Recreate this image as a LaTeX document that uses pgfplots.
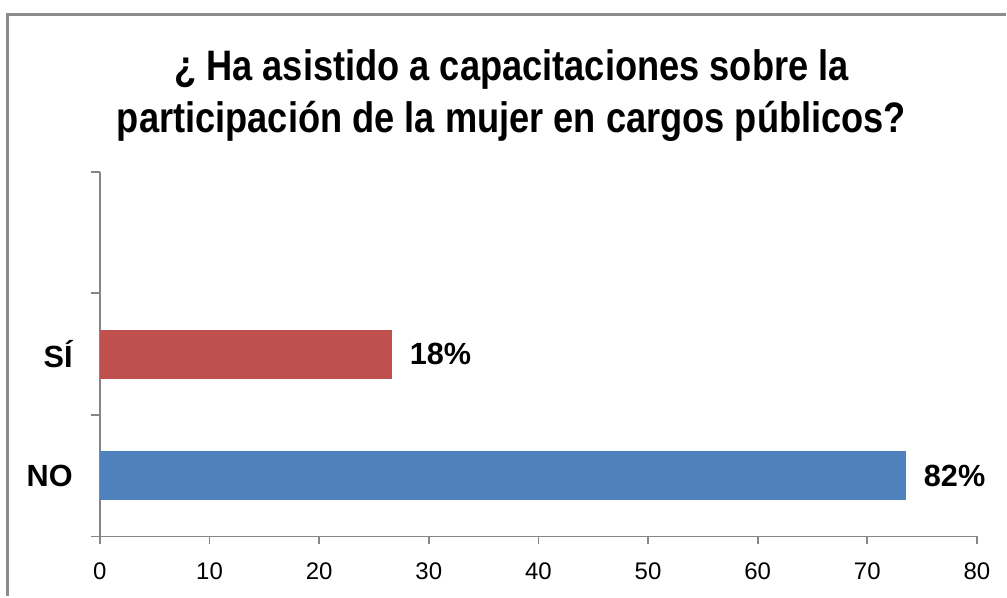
\documentclass[border=0pt]{standalone}
\usepackage{fontspec}
\setmainfont{Liberation Sans}
\newfontfamily\narrowbold[FakeStretch=0.85]{Liberation Sans Bold}
\usepackage{pgfplots}
\pgfplotsset{compat=1.18}
\definecolor{barred}{HTML}{C0504D}
\definecolor{barblue}{HTML}{4F81BD}
\definecolor{axgray}{HTML}{868686}
\definecolor{framegray}{HTML}{8C8C8C}

\begin{document}
\begin{tikzpicture}
% page: 1007x597 px at 0.75pt per px
\path (0,0) rectangle (755.25pt,447.75pt);
\draw[framegray, line width=1.6pt] (5.6pt,0pt) -- (5.6pt,436.9pt) -- (755.25pt,436.9pt);
\node[align=center, font=\narrowbold\fontsize{32}{39}\selectfont, anchor=center]
  at (384pt,376pt) {¿ Ha asistido a capacitaciones sobre la\\participación de la mujer en cargos públicos?};
\begin{axis}[
  at={(75pt,45pt)}, anchor=south west,
  scale only axis, width=658.5pt, height=273.75pt,
  xbar, bar width=36.75pt,
  xmin=0, xmax=80, ymin=-0.5, ymax=2.5,
  xtick={0,10,...,80},
  ytick={0,1}, yticklabels={NO,SÍ},
  minor ytick={-0.5,0.5,1.5,2.5},
  axis x line*=bottom, axis y line*=left,
  axis line style={axgray, line width=1.3pt},
  x axis line style={-}, y axis line style={-},
  tick style={axgray, line width=1.3pt},
  tick align=outside,
  major tick length=6pt,
  minor tick length=7pt,
  major y tick style={draw=none},
  tick label style={font=\fontsize{18}{21}\selectfont},
  xticklabel style={inner sep=0pt, yshift=-13.5pt},
  yticklabel style={font=\bfseries\fontsize{23}{27}\selectfont, inner sep=0pt, xshift=-14.25pt},
  /pgf/number format/assume math mode=true,
  point meta=explicit symbolic,
  nodes near coords,
  every node near coord/.append style={font=\bfseries\fontsize{23}{27}\selectfont, anchor=west, inner sep=0pt, xshift=13.5pt, black},
  clip=false,
]
\addplot[draw=none, fill=barblue, bar shift=0pt] coordinates {(73.5,0) [82\%]};
\addplot[draw=none, fill=barred, bar shift=0pt] coordinates {(26.6,1) [18\%]};
\end{axis}
\end{tikzpicture}
\end{document}
